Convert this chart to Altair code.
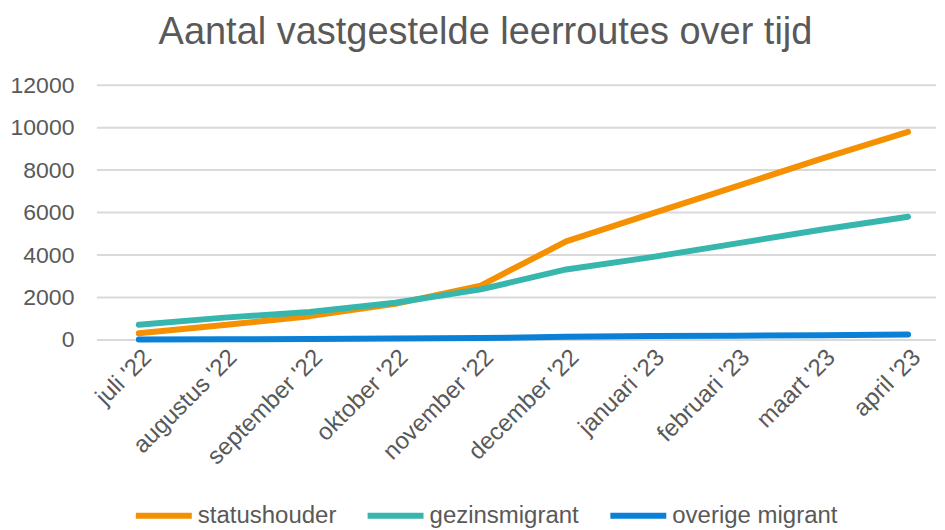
import altair as alt
import pandas as pd

months = ["juli '22", "augustus '22", "september '22", "oktober '22", "november '22",
          "december '22", "januari '23", "februari '23", "maart '23", "april '23"]
statushouder = [310, 700, 1120, 1700, 2560, 4640, 5950, 7250, 8550, 9800]
gezinsmigrant = [720, 1050, 1320, 1750, 2380, 3320, 3900, 4550, 5200, 5800]
overige_migrant = [20, 30, 45, 65, 85, 150, 180, 200, 220, 260]
y_ticks = [0, 2000, 4000, 6000, 8000, 10000, 12000]

series = ["statushouder", "gezinsmigrant", "overige migrant"]
colors = ["#F59100", "#37B6AE", "#0A80D6"]

rows = []
for name, vals in zip(series, [statushouder, gezinsmigrant, overige_migrant]):
    for m, v in zip(months, vals):
        rows.append({"maand": m, "aantal": v, "reeks": name})
df = pd.DataFrame(rows)
grid_df = pd.DataFrame({"aantal": y_ticks})

text_color = "#595959"
font = "Liberation Sans"
W, H = 840, 255

y_scale = alt.Scale(domain=[0, 12000])
y_axis = alt.Axis(values=y_ticks, format="d", ticks=False, domain=False, grid=False,
                  labelPadding=23, labelFontSize=23, labelColor=text_color,
                  labelFont=font)

grid = alt.Chart(grid_df).mark_rule(color="#D9D9D9", strokeWidth=2).encode(
    y=alt.Y("aantal:Q", scale=y_scale, title=None, axis=y_axis),
    x=alt.value(0), x2=alt.value(W),
)

lines = alt.Chart(df).mark_line(strokeWidth=6, strokeCap="round", strokeJoin="round").encode(
    x=alt.X("maand:O", sort=months, title=None,
            scale=alt.Scale(type="point", range=[42, 812], padding=0),
            axis=alt.Axis(labelAngle=-45, labelAlign="right", labelBaseline="top",
                          labelPadding=5, ticks=False, domain=False, grid=False,
                          labelFontSize=24, labelColor=text_color, labelFont=font)),
    y=alt.Y("aantal:Q", scale=y_scale, title=None, axis=y_axis),
    color=alt.Color("reeks:N", sort=series,
                    scale=alt.Scale(domain=series, range=colors),
                    legend=alt.Legend(orient="none", legendX=36, legendY=400,
                                      direction="horizontal", title=None,
                                      symbolType="stroke", symbolStrokeWidth=6,
                                      symbolSize=3136, labelFontSize=24,
                                      labelLimit=400,
                                      labelColor=text_color, labelFont=font,
                                      columnPadding=19, labelOffset=3)),
)

chart = alt.layer(grid, lines).properties(
    width=W, height=H,
    title=alt.TitleParams("Aantal vastgestelde leerroutes over tijd", fontSize=38,
                          font=font, color=text_color, fontWeight="normal",
                          offset=22, dx=-31),
    padding={"left": 2, "top": 6, "right": 0, "bottom": 0},
).configure_view(stroke=None)

chart.save("out.html", embed_options={"renderer": "svg", "actions": False})
